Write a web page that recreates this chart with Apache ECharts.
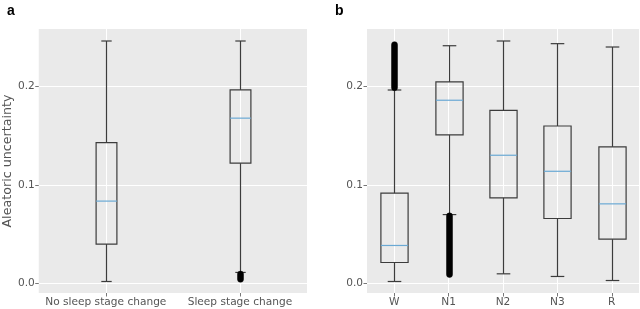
<!DOCTYPE html>
<html>
<head>
<meta charset="utf-8">
<script src="https://cdn.jsdelivr.net/npm/echarts@6/dist/echarts.min.js"></script>
<style>
html,body{margin:0;padding:0;background:#fff;}
#c{width:640px;height:309px;}
</style>
</head>
<body>
<div id="c"></div>
<script>
// ---- data ----
const catsA = ['No sleep stage change', 'Sleep stage change'];
// [low whisker, Q1, median, Q3, high whisker]
const boxA_noChange = [0.002, 0.040, 0.0837, 0.1432, 0.2464];
const boxA_change   = [0.0112, 0.1222, 0.168, 0.1967, 0.2464];
// dense outlier ranges [categoryIndex, lowest, highest]
const outA = [[1, 0.0042, 0.0095]];

const catsB = ['W', 'N1', 'N2', 'N3', 'R'];
const boxB_W  = [0.002, 0.0213, 0.0386, 0.0918, 0.1966];
const boxB_N1 = [0.070, 0.151, 0.1862, 0.2048, 0.2416];
const boxB_N2 = [0.0098, 0.087, 0.1303, 0.176, 0.2464];
const boxB_N3 = [0.0071, 0.066, 0.114, 0.160, 0.2437];
const boxB_R  = [0.003, 0.045, 0.0809, 0.1388, 0.2403];
const outB = [[0, 0.199, 0.2427], [1, 0.0091, 0.0687]];

const yTicks = [0, 0.1, 0.2];

// ---- chart ----
const boxesA = [boxA_noChange, boxA_change].map((b, i) => [i].concat(b));
const boxesB = [boxB_W, boxB_N1, boxB_N2, boxB_N3, boxB_R].map((b, i) => [i].concat(b));

const FONT = 'DejaVu Sans';
const LINE = '#3c3c3c';
const MED = '#6aa9d4';

function makeBoxRenderer(frac) {
  return function (params, api) {
    const x = api.value(0);
    const lo = api.coord([x, api.value(1)]);
    const q1 = api.coord([x, api.value(2)]);
    const md = api.coord([x, api.value(3)]);
    const q3 = api.coord([x, api.value(4)]);
    const hi = api.coord([x, api.value(5)]);
    const band = api.size([1, 0])[0];
    const bw = band * frac;
    const cw = bw / 2;
    const cx = Math.round(lo[0]) + 0.5;
    const st = { stroke: LINE, lineWidth: 1.2, fill: null };
    return {
      type: 'group',
      children: [
        { type: 'line', shape: { x1: cx, y1: lo[1], x2: cx, y2: q1[1] }, style: st },
        { type: 'line', shape: { x1: cx, y1: q3[1], x2: cx, y2: hi[1] }, style: st },
        { type: 'line', shape: { x1: cx - cw / 2, y1: lo[1], x2: cx + cw / 2, y2: lo[1] }, style: st },
        { type: 'line', shape: { x1: cx - cw / 2, y1: hi[1], x2: cx + cw / 2, y2: hi[1] }, style: st },
        { type: 'rect', shape: { x: cx - bw / 2, y: q3[1], width: bw, height: q1[1] - q3[1] }, style: st },
        { type: 'line', shape: { x1: cx - bw / 2, y1: md[1], x2: cx + bw / 2, y2: md[1] }, style: { stroke: MED, lineWidth: 1.2 } }
      ]
    };
  };
}
function renderOut(params, api) {
  const x = api.value(0);
  const a = api.coord([x, api.value(1)]);
  const b = api.coord([x, api.value(2)]);
  const cx = Math.round(a[0]) + 0.5;
  return {
    type: 'rect',
    shape: { x: cx - 3, y: b[1] - 3, width: 6, height: a[1] - b[1] + 6, r: 3 },
    style: { fill: '#000', stroke: '#000', lineWidth: 0.5 }
  };
}

function xAxis(gridIndex, cats) {
  const ticks = cats.map((c, i) => i);
  return {
    type: 'value', gridIndex: gridIndex, min: -0.5, max: cats.length - 0.5, position: 'bottom',
    axisLine: { show: false, onZero: false },
    axisTick: { show: true, length: 3.5, lineStyle: { color: '#555', width: 0.8 }, customValues: ticks },
    axisLabel: { customValues: ticks, formatter: v => cats[Math.round(v)], color: '#555', fontFamily: FONT, fontSize: 10.6, margin: 4 },
    splitLine: { show: true, lineStyle: { color: '#fff', width: 1 } }
  };
}
function yAxis(gridIndex, name) {
  return {
    type: 'value', gridIndex: gridIndex, min: -0.0097, max: 0.2586, position: 'left',
    name: name, nameLocation: 'middle', nameGap: 21,
    nameTextStyle: { color: '#555', fontFamily: FONT, fontSize: 12.7 },
    axisLine: { show: false, onZero: false },
    axisTick: { show: true, length: 3.5, lineStyle: { color: '#555', width: 0.8 }, customValues: yTicks },
    axisLabel: { customValues: yTicks, formatter: v => v.toFixed(1), color: '#555', fontFamily: FONT, fontSize: 10.6, margin: 4 },
    splitLine: { show: true, lineStyle: { color: '#fff', width: 1 } }
  };
}

const chart = echarts.init(document.getElementById('c'), null, { renderer: 'canvas' });
chart.setOption({
  animation: false,
  backgroundColor: '#fff',
  title: [
    { text: 'a', left: 2, top: -1, textStyle: { fontFamily: 'Liberation Sans', fontWeight: 'bold', fontSize: 14, color: '#000' } },
    { text: 'b', left: 330, top: -1, textStyle: { fontFamily: 'Liberation Sans', fontWeight: 'bold', fontSize: 14, color: '#000' } }
  ],
  grid: [
    { left: 36, right: 333, top: 29, bottom: 16, show: true, backgroundColor: '#eaeaea', borderWidth: 0 },
    { left: 367, right: 1, top: 29, bottom: 16, show: true, backgroundColor: '#eaeaea', borderWidth: 0 }
  ],
  xAxis: [xAxis(0, catsA), xAxis(1, catsB)],
  yAxis: [yAxis(0, 'Aleatoric uncertainty'), yAxis(1, '')],
  series: [
    { type: 'custom', xAxisIndex: 0, yAxisIndex: 0, renderItem: makeBoxRenderer(0.155), data: boxesA, encode: { x: 0, y: [1, 2, 3, 4, 5] }, z: 3 },
    { type: 'custom', xAxisIndex: 0, yAxisIndex: 0, renderItem: renderOut, data: outA, encode: { x: 0, y: [1, 2] }, z: 4 },
    { type: 'custom', xAxisIndex: 1, yAxisIndex: 1, renderItem: makeBoxRenderer(0.5), data: boxesB, encode: { x: 0, y: [1, 2, 3, 4, 5] }, z: 3 },
    { type: 'custom', xAxisIndex: 1, yAxisIndex: 1, renderItem: renderOut, data: outB, encode: { x: 0, y: [1, 2] }, z: 4 }
  ]
});
</script>
</body>
</html>
